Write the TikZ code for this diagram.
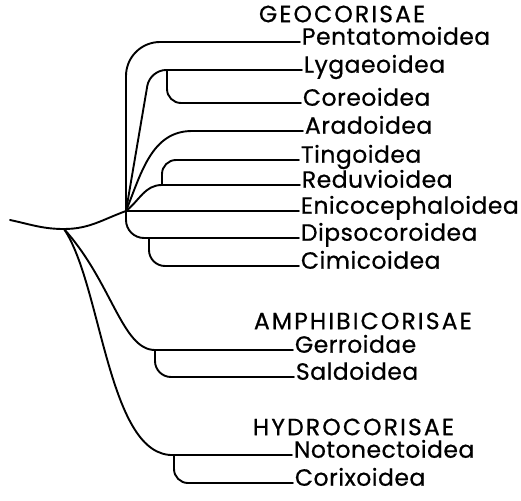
\documentclass[tikz,border=0pt]{standalone}
\usepackage{fontspec}
\setmainfont{Poppins}

\begin{document}
\begin{tikzpicture}[
			x = 1pt, y = -1pt, % one unit per pixel, y pointing down
			line width = 1.9pt, % line style
			line cap = round,
			font = \fontsize{23.5}{28}\selectfont,
			taxon/.style = {anchor = mid west, inner sep = 1pt, font = \fontsize{23.5}{28}\selectfont\addfontfeatures{LetterSpace=2, FakeBold=0.6}},
			group/.style = {anchor = west, inner sep = 0pt, font = \fontsize{23.5}{28}\selectfont\addfontfeatures{LetterSpace=9, FakeBold=0.6}}
			]
			
			\useasboundingbox (0,0) rectangle (521,500);
			
			% group headings
			\node[group] (geocorisae) at (258,14) {GEOCORISAE};
			\node[group] (amphibicorisae) at (253,321) {AMPHIBICORISAE};
			\node[group] (hydrocorisae) at (252,427) {HYDROCORISAE};
			
			% superfamilies
			\node[taxon] (pentatomoidea) at (300,42) {Pentatomoidea};
			\node[taxon] (lygaeoidea) at (302,70) {Lygaeoidea};
			\node[taxon] (coreoidea) at (301,103) {Coreoidea};
			\node[taxon] (aradoidea) at (303,131) {Aradoidea};
			\node[taxon] (tingoidea) at (299,160) {Tingoidea};
			\node[taxon] (reduvioidea) at (300,185) {Reduvioidea};
			\node[taxon] (enicocephaloidea) at (299,211) {Enicocephaloidea};
			\node[taxon] (dipsocoroidea) at (299,238) {Dipsocoroidea};
			\node[taxon] (cimicoidea) at (299,266) {Cimicoidea};
			\node[taxon] (gerroidae) at (293,350) {Gerroidae};
			\node[taxon] (saldoidea) at (294,377) {Saldoidea};
			\node[taxon] (notonectoidea) at (292,455) {Notonectoidea};
			\node[taxon] (corixoidea) at (293,483) {Corixoidea};
			
			% branch points
			\coordinate (base) at (10,220);
			\coordinate (split) at (64,229);
			\coordinate (hub) at (126,211);
			\coordinate (lyg) at (167,70);
			\coordinate (tin) at (162,185);
			\coordinate (dip) at (149,238);
			\coordinate (amp) at (155,350);
			\coordinate (hyd) at (174,455);
			
			% stem
			\draw (base) to[out=-12, in=180] (split) to[out=0, in=200] (hub);
			
			% geocorisae
			\draw[rounded corners=34] (hub) |- (pentatomoidea.mid west);
			\draw[rounded corners=16] (hub) -- (150,70) -- (lygaeoidea.mid west);
			\draw[rounded corners=14] (lyg) |- (coreoidea.mid west);
			\draw (hub) to[out=68, in=180] (192,131) -- (aradoidea.mid west);
			\draw (hub) to[out=38, in=180] (tin) -- (reduvioidea.mid west);
			\draw[rounded corners=14] (tin) |- (tingoidea.mid west);
			\draw (hub) -- (enicocephaloidea.mid west);
			\draw[rounded corners=18] (hub) |- (dipsocoroidea.mid west);
			\draw[rounded corners=16] (dip) |- (cimicoidea.mid west);
			
			% amphibicorisae
			\draw (split) .. controls (112,282) and (122,350) .. (amp) -- (gerroidae.mid west);
			\draw[rounded corners=16] (amp) |- (saldoidea.mid west);
			
			% hydrocorisae
			\draw (split) .. controls (102,285) and (108,458) .. (hyd) -- (notonectoidea.mid west);
			\draw[rounded corners=14] (hyd) |- (corixoidea.mid west);
		\end{tikzpicture}
\end{document}
